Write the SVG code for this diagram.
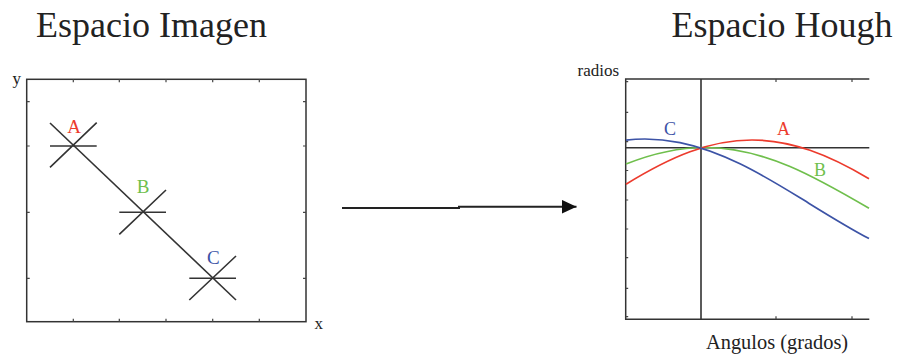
<svg xmlns="http://www.w3.org/2000/svg" width="898" height="356" viewBox="0 0 898 356">
<defs>
<style>
.t{font-family:"Liberation Serif","Times New Roman",serif;fill:#222}
.title{font-size:36px}
.ax{font-size:17px}
.lbl{font-size:19px;text-anchor:middle}
.frame{fill:none;stroke:#333;stroke-width:1.5}
.tick{stroke:#444;stroke-width:1.2}
.ln{stroke:#333;stroke-width:1.6;fill:none}
.cv{fill:none;stroke-width:1.7}
.red{stroke:#ec3b2d}.green{stroke:#6fbf4c}.blue{stroke:#3c53a6}
.fred{fill:#ec3b2d}.fgreen{fill:#6fbf4c}.fblue{fill:#3c53a6}
</style>
<marker id="ah" markerUnits="userSpaceOnUse" markerWidth="16" markerHeight="14" refX="15" refY="7" orient="auto">
<path d="M0,0 L15,7 L0,14 Z" fill="#111"/>
</marker>
</defs>
<rect width="898" height="356" fill="#fff"/>

<g id="image-space">
<text class="t title" x="36" y="37">Espacio Imagen</text>
<text class="t ax" x="12.5" y="84">y</text>
<text class="t ax" x="314.5" y="328.5">x</text>
<rect class="frame" x="26.7" y="79.3" width="279.3" height="242.4"/>
<path class="tick" d="M73.3,79.3v3M119.3,79.3v3M166,79.3v3M212.7,79.3v3M259.3,79.3v3M73.3,321.7v-3M119.3,321.7v-3M166,321.7v-3M212.7,321.7v-3M259.3,321.7v-3M26.7,101.7h3M26.7,146h3M26.7,212.3h3M26.7,278.3h3M306,101.7h-3M306,146h-3M306,212.3h-3M306,278.3h-3"/>
<path class="ln" d="M50,123L236,300"/>
<g id="point-A">
<path class="ln" d="M50,146H96.7M96.7,122.7L50,167.3"/>
<text class="t lbl fred" x="74" y="132.7">A</text>
</g>
<g id="point-B">
<path class="ln" d="M119.3,212.3H166M166,190L119.3,234.3"/>
<text class="t lbl fgreen" x="143" y="193.3">B</text>
</g>
<g id="point-C">
<path class="ln" d="M189.3,278.3H236M236,256L189.3,300"/>
<text class="t lbl fblue" x="213.3" y="264.3">C</text>
</g>
</g>

<g id="connectors">
<path d="M342,208H459V206.7H576.5" fill="none" stroke="#222" stroke-width="2" marker-end="url(#ah)"/>
</g>

<g id="hough-space">
<text class="t title" x="671.5" y="37">Espacio Hough</text>
<text class="t ax" x="577.5" y="76.3">radios</text>
<text class="t" style="font-size:20.4px" x="706" y="349">Angulos (grados)</text>
<path class="frame" d="M869.3,79H625.7V319.3H869.3"/>
<path class="tick" d="M776,79v3M852,79v3M776,319.3v-3M852,319.3v-3M625.7,81.7h2.5M625.7,112.3h2.5M625.7,141.7h2.5M625.7,170.5h2.5M625.7,200h2.5M625.7,229h2.5M625.7,257.7h2.5M625.7,288.3h2.5M625.7,316.7h2.5"/>
<path class="ln" d="M701,79V319.3M625.7,147.7H869.3" stroke-width="1.4"/>
<g id="curve-B">
<path class="cv green" d="M626,164.07C652.33,153.56 678.67,147.5 705,147.5C733.33,147.5 761.67,154.54 790,166.53C816.33,177.67 842.67,192.93 869,208.32"/>
<text class="t lbl fgreen" style="font-size:18px" x="820" y="175.5">B</text>
</g>
<g id="curve-A">
<path class="cv red" d="M626,184.16C647.33,171.06 668.67,159.53 690,151.71C710.67,144.13 731.33,140 752,140C771.33,140 790.67,143.6 810,150.28C829.67,157.08 849.33,167.07 869,178.7"/>
<text class="t lbl fred" style="font-size:18px" x="783.5" y="134.5">A</text>
</g>
<g id="curve-C">
<path class="cv blue" d="M626,140.06C644,138.06 662,138.93 680,142.57C700,146.62 720,154.09 740,163.82C760,173.55 780,185.5 800,197.82C823,211.99 846,226.54 869,238.59"/>
<text class="t lbl fblue" style="font-size:18px" x="670" y="135">C</text>
</g>
</g>
</svg>
